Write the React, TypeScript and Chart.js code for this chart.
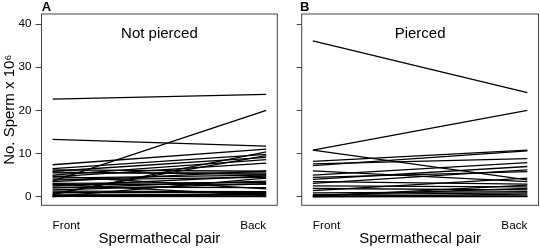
import React, { useEffect, useRef } from "react";
import { Chart, registerables } from "chart.js";

Chart.register(...registerables);

// ---- data ----
const X_CATEGORIES = ["Front", "Back"];
const X_POSITIONS = [1, 2];
const Y_TICKS = [0, 10, 20, 30, 40];

const PANEL_A_LETTER = "A";
const PANEL_A_TITLE = "Not pierced";
const A_FRONT = [22.6, 13.3, 3.6, 0.5, 7.4, 6.5, 6.2, 5.9, 5.5, 5.0, 4.6, 4.3, 3.9, 3.5, 3.1, 2.8, 2.5, 2.2, 1.6, 1.0, 0.6, 0.3, 0.1, 0.0, 0.0, 4.8, 2.9, 0.7, 0.2, 1.3, 5.7, 2.0];
const A_BACK = [23.7, 11.7, 20.0, 10.4, 11.0, 9.8, 5.9, 9.1, 5.5, 8.6, 7.8, 5.0, 4.5, 6.0, 3.3, 2.9, 4.8, 2.1, 3.0, 1.0, 0.5, 0.2, 0.0, 0.8, 4.3, 1.8, 0.3, 9.5, 0.1, 1.2, 5.2, 3.6];

const PANEL_B_LETTER = "B";
const PANEL_B_TITLE = "Pierced";
const B_FRONT = [36.1, 10.8, 10.8, 8.2, 7.6, 7.2, 6.0, 5.0, 4.5, 4.0, 3.5, 3.1, 2.5, 1.9, 1.4, 0.9, 0.5, 0.2, 0.1, 0.0, 0.0, 0.0, 0.3];
const B_BACK = [24.1, 20.0, 3.9, 10.8, 8.8, 10.6, 3.5, 7.9, 5.8, 7.0, 2.9, 6.2, 2.3, 1.6, 4.3, 1.2, 0.9, 0.2, 2.7, 0.0, 0.6, 0.1, 1.9];

const Y_TITLE = "No. Sperm x 10\u2076";
const X_TITLE = "Spermathecal pair";

const FONT = "'Liberation Sans', Arial, Helvetica, sans-serif";
const AXIS_COLOR = "#444";

const panelPlugin = {
  id: "panelText",
  afterDraw(chart: any, _args: any, opts: any) {
    const { ctx, chartArea } = chart;
    ctx.save();
    ctx.strokeStyle = AXIS_COLOR;
    ctx.lineWidth = 1;
    ctx.strokeRect(
      chartArea.left,
      chartArea.top,
      chartArea.right - chartArea.left,
      chartArea.bottom - chartArea.top
    );
    ctx.fillStyle = "#000";
    ctx.textBaseline = "alphabetic";
    ctx.textAlign = "left";
    ctx.font = `bold 13px ${FONT}`;
    ctx.fillText(opts.letter, opts.letterX, 11);
    ctx.font = `15px ${FONT}`;
    ctx.textAlign = "center";
    ctx.fillText(opts.title, (chartArea.left + chartArea.right) / 2, 37.7);
    ctx.restore();
  },
};

type PanelProps = {
  front: number[];
  back: number[];
  letter: string;
  title: string;
  left: number;
  width: number;
  yAxisWidth: number;
  padRight: number;
  letterX: number;
  showYLabels: boolean;
  tickLength: number;
};

function Panel(p: PanelProps) {
  const ref = useRef<HTMLCanvasElement | null>(null);
  useEffect(() => {
    if (!ref.current) return;
    const datasets = p.front.map((f, i) => ({
      data: [
        { x: X_POSITIONS[0], y: f },
        { x: X_POSITIONS[1], y: p.back[i] },
      ],
      borderColor: "#000",
      borderWidth: 1.3,
      pointRadius: 0,
      fill: false,
      tension: 0,
    }));
    const chart = new Chart(ref.current, {
      type: "line",
      data: { datasets },
      plugins: [panelPlugin as any],
      options: {
        animation: false,
        responsive: false,
        devicePixelRatio: 1,
        layout: { padding: { top: 14, right: p.padRight, left: 0, bottom: 0 } },
        plugins: {
          legend: { display: false },
          tooltip: { enabled: false },
          panelText: { letter: p.letter, title: p.title, letterX: p.letterX },
        } as any,
        scales: {
          x: {
            type: "linear",
            min: 0.948,
            max: 2.052,
            afterBuildTicks: (scale: any) => {
              scale.ticks = X_POSITIONS.map((v) => ({ value: v }));
            },
            afterFit: (scale: any) => {
              scale.height = 43.7;
            },
            grid: { display: false },
            border: { display: false },
            ticks: {
              align: "inner",
              padding: 6.4,
              color: "#000",
              maxRotation: 0,
              autoSkip: false,
              font: { family: FONT, size: 11.7, lineHeight: 1 },
              callback: (v: any) => {
                const idx = X_POSITIONS.indexOf(Number(v));
                return idx >= 0 ? X_CATEGORIES[idx] : "";
              },
            },
            title: {
              display: true,
              text: X_TITLE,
              color: "#000",
              font: { family: FONT, size: 15, lineHeight: 1 },
              padding: { top: 0, bottom: 2.7 },
            },
          },
          y: {
            type: "linear",
            min: -1.99,
            max: 42.32,
            afterBuildTicks: (scale: any) => {
              scale.ticks = Y_TICKS.map((v) => ({ value: v }));
            },
            afterFit: (scale: any) => {
              scale.width = p.yAxisWidth;
            },
            grid: {
              display: true,
              drawOnChartArea: false,
              drawTicks: true,
              tickLength: p.tickLength,
              color: AXIS_COLOR,
              tickColor: AXIS_COLOR,
              lineWidth: 1,
            },
            border: { display: false },
            ticks: {
              display: p.showYLabels,
              padding: 4,
              color: "#000",
              font: { family: FONT, size: 11.7, lineHeight: 1 },
            },
            title: {
              display: p.showYLabels,
              text: Y_TITLE,
              color: "#000",
              font: { family: FONT, size: 15, lineHeight: 1 },
              padding: { top: 2.3, bottom: 0 },
            },
          },
        },
      } as any,
    });
    return () => chart.destroy();
  }, []);
  return (
    <canvas
      ref={ref}
      width={p.width}
      height={249}
      style={{ position: "absolute", left: p.left, top: 0, width: p.width, height: 249 }}
    />
  );
}

export default function App() {
  return (
    <div style={{ position: "absolute", left: 0, top: 0, width: 540, height: 249, background: "#fff" }}>
      <Panel
        front={A_FRONT}
        back={A_BACK}
        letter={PANEL_A_LETTER}
        title={PANEL_A_TITLE}
        left={0}
        width={280}
        yAxisWidth={41.5}
        padRight={2.7}
        letterX={41.7}
        showYLabels={true}
        tickLength={6}
      />
      <Panel
        front={B_FRONT}
        back={B_BACK}
        letter={PANEL_B_LETTER}
        title={PANEL_B_TITLE}
        left={280}
        width={260}
        yAxisWidth={21.7}
        padRight={1.5}
        letterX={20}
        showYLabels={false}
        tickLength={5}
      />
    </div>
  );
}
